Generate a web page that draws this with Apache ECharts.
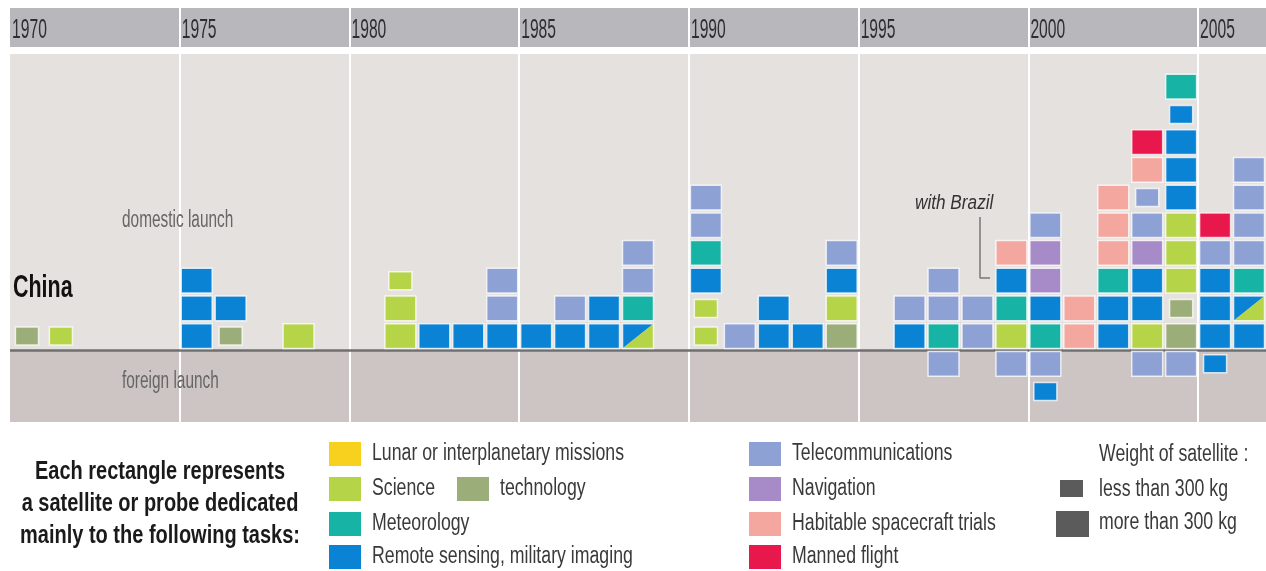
<!DOCTYPE html>
<html><head><meta charset="utf-8">
<script src="https://cdn.jsdelivr.net/npm/echarts@6/dist/echarts.min.js"></script>
<style>html,body{margin:0;padding:0;background:#fff}#c{width:1266px;height:571px}</style>
</head><body><div id="c"></div>
<script>
const FONT = "'Liberation Sans',Arial,sans-serif";

// ---- data ----
const years = [1970,1971,1972,1973,1974,1975,1976,1977,1978,1979,1980,1981,1982,1983,1984,1985,1986,1987,1988,1989,
               1990,1991,1992,1993,1994,1995,1996,1997,1998,1999,2000,2001,2002,2003,2004,2005,2006];
const yearTicks = [1970,1975,1980,1985,1990,1995,2000,2005];
const taskCodes  = ['LU','SC','TE','ME','RS','TC','NA','HA','MF'];
const taskNames  = ['Lunar or interplanetary missions','Science','technology','Meteorology','Remote sensing, military imaging',
                    'Telecommunications','Navigation','Habitable spacecraft trials','Manned flight'];
const taskColors = ['#f7d11e','#b5d447','#9bad78','#17b3a4','#0b83d5','#8da1d5','#a78ac8','#f3a79f','#e8184d'];

// domestic launches, stacked bottom -> top ('.s' = less than 300 kg, 'A/B' = shared task)
const domestic = [
  ['TE.s'], ['SC.s'], [], [], [],
  ['RS','RS','RS'], ['TE.s','RS'], [], ['SC'], [],
  [], ['SC','SC','SC.s'], ['RS'], ['RS'], ['RS','TC','TC'],
  ['RS'], ['RS','TC'], ['RS','RS'], ['RS/SC','ME','TC','TC'], [],
  ['SC.s','SC.s','RS','ME','TC','TC'], ['TC'], ['RS','RS'], ['RS'], ['TE','SC','RS','TC'],
  [], ['RS','TC'], ['ME','TC','TC'], ['TC','TC'], ['SC','ME','RS','HA'],
  ['ME','RS','NA','NA','TC'], ['HA','HA'], ['RS','RS','ME','HA','HA','HA'],
  ['SC','RS','RS','NA','TC','TC.s','HA','MF'],
  ['TE','TE.s','SC','SC','SC','RS','RS','RS','RS.s','ME'],
  ['RS','RS','RS','TC','MF'],
  ['RS','RS/SC','ME','TC','TC','TC','TC']
];
// foreign launches, stacked top -> bottom
const foreignYears = [1997, 1999, 2000, 2003, 2004, 2005];
const foreign = [['TC'], ['TC'], ['TC','RS.s'], ['TC'], ['TC'], ['RS.s']];

// ---- build cells ----
function parse(code) {
  const small = code.endsWith('.s') ? 1 : 0;
  const base = code.replace('.s','');
  const parts = base.split('/');
  return [taskCodes.indexOf(parts[0]), small, parts[1] ? taskCodes.indexOf(parts[1]) : -1];
}
const cells = [];
years.forEach((yr, i) => {
  domestic[i].forEach((code, j) => {
    const p = parse(code);
    cells.push([yr, j + 1, p[0], p[1], p[2]]);
  });
});
foreignYears.forEach((yr, i) => {
  foreign[i].forEach((code, j) => {
    const p = parse(code);
    cells.push([yr, -(j + 1), p[0], p[1], p[2]]);
  });
});

function renderCell(params, api) {
  const yr = api.value(0), row = api.value(1), ci = api.value(2), small = api.value(3), si = api.value(4);
  const bottom = row > 0 ? row - 1 : row;
  const tl = api.coord([yr, bottom + 1]);
  const br = api.coord([yr + 1, bottom]);
  const W = br[0] - tl[0], H = br[1] - tl[1];
  const halo = { stroke: 'rgba(255,255,255,0.75)', lineWidth: 1.5 };
  if (small) {
    const w = W * 0.68, h = H * 0.65;
    return { type: 'rect', shape: { x: tl[0] + (W - w) / 2, y: tl[1] + (H - h) / 2, width: w, height: h },
             style: Object.assign({ fill: taskColors[ci] }, halo) };
  }
  const x = tl[0] + 1.5, y = tl[1] + 1.5, w = W - 3, h = H - 3;
  if (si >= 0) {
    return { type: 'group', children: [
      { type: 'polygon', shape: { points: [[x, y], [x + w, y], [x, y + h]] }, style: { fill: taskColors[ci] } },
      { type: 'polygon', shape: { points: [[x + w, y], [x + w, y + h], [x, y + h]] }, style: { fill: taskColors[si] } },
      { type: 'rect', shape: { x: x, y: y, width: w, height: h }, style: Object.assign({ fill: 'none' }, halo) }
    ]};
  }
  return { type: 'rect', shape: { x: x, y: y, width: w, height: h }, style: Object.assign({ fill: taskColors[ci] }, halo) };
}

function renderYear(params, api) {
  const p = api.coord([api.value(0), 11.52]);
  return { type: 'text', x: p[0] + 2, y: p[1], scaleX: 0.58,
    style: { text: String(api.value(0)), font: '27px ' + FONT, fill: '#2e2e2e', textVerticalAlign: 'middle' } };
}

// ---- legend / annotation graphics ----
const legendText = { fill: '#3a3a3a', font: '23px ' + FONT, textVerticalAlign: 'middle' };
function sq(x, y, w, h, color) { return { type: 'rect', shape: { x: x, y: y, width: w, height: h }, style: { fill: color } }; }
function tx(x, y, text) { return { type: 'text', x: x, y: y, scaleX: 0.77, style: Object.assign({ text: text }, legendText) }; }
const leftRows = [[0, 442], [1, 477], [3, 512], [4, 545]];
const rightRows = [[5, 442], [6, 477], [7, 512], [8, 545]];
const graphics = [];
leftRows.forEach(r => { graphics.push(sq(329, r[1], 32, 24, taskColors[r[0]])); graphics.push(tx(372, r[1] + 12, taskNames[r[0]])); });
graphics.push(sq(457, 477, 32, 24, taskColors[2])); graphics.push(tx(500, 489, taskNames[2]));
rightRows.forEach(r => { graphics.push(sq(749, r[1], 32, 24, taskColors[r[0]])); graphics.push(tx(792, r[1] + 12, taskNames[r[0]])); });
graphics.push(tx(1099, 455, 'Weight of satellite :'));
graphics.push(sq(1060, 480, 23, 17, '#5b5b5b')); graphics.push(tx(1099, 490, 'less than 300 kg'));
graphics.push(sq(1056, 511, 33, 26, '#5b5b5b')); graphics.push(tx(1099, 523, 'more than 300 kg'));
graphics.push({ type: 'text', x: 160, y: 456, scaleX: 0.8, style: { text: 'Each rectangle represents\na satellite or probe dedicated\nmainly to the following tasks:',
  font: 'bold 25px ' + FONT, fill: '#1a1a1a', textAlign: 'center', lineHeight: 32 } });
graphics.push({ type: 'text', x: 122, y: 221, z: 100, scaleX: 0.67, style: { text: 'domestic launch', font: '23px ' + FONT, fill: '#666', textVerticalAlign: 'middle' } });
graphics.push({ type: 'text', x: 122, y: 382, z: 100, scaleX: 0.67, style: { text: 'foreign launch', font: '23px ' + FONT, fill: '#666', textVerticalAlign: 'middle' } });
graphics.push({ type: 'text', x: 13, y: 288, z: 100, scaleX: 0.67, style: { text: 'China', font: 'bold 32px ' + FONT, fill: '#111', textVerticalAlign: 'middle' } });
graphics.push({ type: 'text', x: 915, y: 203, z: 100, scaleX: 0.86, style: { text: 'with Brazil', font: 'italic 20px ' + FONT, fill: '#333', textVerticalAlign: 'middle' } });

const chart = echarts.init(document.getElementById('c'), null, { renderer: 'canvas' });
chart.setOption({
  backgroundColor: '#ffffff',
  animation: false,
  grid: { left: 10, right: 0, top: 8, bottom: 149 },
  xAxis: {
    type: 'value', position: 'top', min: 1970, max: 2007, interval: 5,
    axisLine: { show: false }, axisTick: { show: false }, splitLine: { show: false }, axisLabel: { show: false }
  },
  yAxis: { type: 'value', min: -2.6, max: 12.34, show: false },
  graphic: graphics,
  series: [
    { type: 'line', data: [], z: 1, silent: true,
      markArea: { silent: true, data: [
        [{ yAxis: 10.93, itemStyle: { color: '#b8b7bc' } }, { yAxis: 12.34 }],
        [{ yAxis: 0, itemStyle: { color: '#e5e1de' } }, { yAxis: 10.68 }],
        [{ yAxis: -2.6, itemStyle: { color: '#cdc5c3' } }, { yAxis: 0 }]
      ] } },
    { type: 'line', data: [], z: 2, silent: true,
      markLine: { silent: true, symbol: 'none', label: { show: false },
        lineStyle: { color: '#ffffff', width: 2, type: 'solid' },
        data: yearTicks.slice(1).map(v => ({ xAxis: v })).concat([
          { yAxis: 0, lineStyle: { color: '#6f6f6f', width: 2.5 } },
          [{ coord: [1998.57, 4.8], lineStyle: { color: '#777', width: 1.5 } }, { coord: [1998.57, 2.6] }],
          [{ coord: [1998.57, 2.6], lineStyle: { color: '#777', width: 1.5 } }, { coord: [1998.87, 2.6] }]
        ]) } },
    { type: 'custom', z: 4, silent: true, renderItem: renderYear, encode: { x: 0 }, data: yearTicks.map(v => [v]), clip: false },
    { type: 'custom', z: 5, renderItem: renderCell, encode: { x: 0, y: 1 }, data: cells, clip: false }
  ]
});
</script></body></html>
